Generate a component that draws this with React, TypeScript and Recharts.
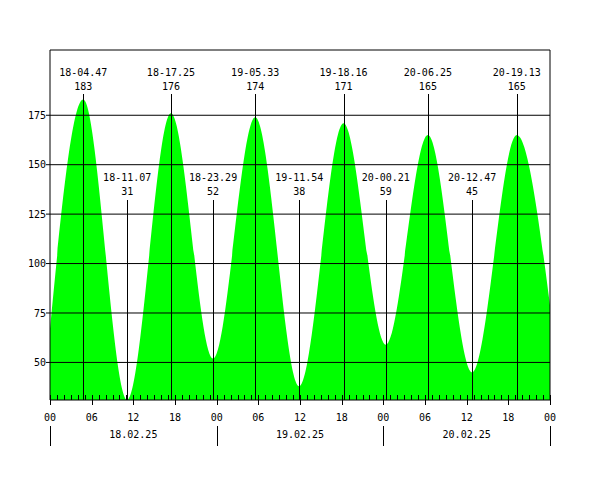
import React from 'react';
import { ComposedChart, Area, Scatter, XAxis, YAxis, ReferenceLine } from 'recharts';

// tide extremes, label is "day-hh.mm"
const EXTREME_LABELS = [
  '18-04.47', '18-11.07', '18-17.25', '18-23.29', '19-05.33', '19-11.54',
  '19-18.16', '20-00.21', '20-06.25', '20-12.47', '20-19.13',
];
const EXTREME_LEVELS = [183, 31, 176, 52, 174, 38, 171, 59, 165, 45, 165];

// level read at the left and right edge of the plot
const START_LEVEL = 67;
const END_LEVEL = 79;

const DATES = ['18.02.25', '19.02.25', '20.02.25'];
const FIRST_DAY = 18;
const Y_TICKS = [50, 75, 100, 125, 150, 175];
const Y_DOMAIN: [number, number] = [31, 208];
const HOUR_TICKS = Array.from({ length: 73 }, (_, i) => i);

const FONT = '"DejaVu Sans Mono", monospace';
const GREEN = '#00ff00';

const toHour = (label: string) => {
  const [day, time] = label.split('-');
  const [hh, mm] = time.split('.');
  return (Number(day) - FIRST_DAY) * 24 + Number(hh) + Number(mm) / 60;
};

const extremes = EXTREME_LABELS.map((label, i) => ({
  hour: toHour(label),
  level: EXTREME_LEVELS[i],
  label,
  high: i % 2 === 0,
}));

const series = [
  { hour: 0, level: START_LEVEL },
  ...extremes.map((e) => ({ hour: e.hour, level: e.level })),
  { hour: 72, level: END_LEVEL },
];

const PLOT_BOTTOM = 400;

const HourTick = (props: any) => {
  const { x, y, payload } = props;
  const h = payload.value as number;
  const px = Math.round(x) + 0.5;
  return (
    <g shapeRendering="crispEdges">
      <line x1={px} x2={px} y1={y} y2={y - 5} stroke="#000" />
      {h % 6 === 0 && <line x1={px} x2={px} y1={y} y2={y + 5} stroke="#000" />}
      {h % 6 === 0 && (
        <text x={x} y={y + 21} textAnchor="middle" fontFamily={FONT} fontSize={10} fill="#000">
          {String(h % 24).padStart(2, '0')}
        </text>
      )}
      {h % 24 === 0 && <line x1={px} x2={px} y1={y + 26} y2={y + 46} stroke="#000" />}
      {h % 24 === 12 && (
        <text x={x} y={y + 38} textAnchor="middle" fontFamily={FONT} fontSize={10} fill="#000">
          {DATES[Math.floor(h / 24)]}
        </text>
      )}
    </g>
  );
};

const ExtremeMark = (props: any) => {
  const { cx, payload } = props;
  const px = Math.round(cx) + 0.5;
  const top = payload.high ? 94 : 200;
  const base = payload.high ? 76 : 181;
  return (
    <g>
      <line x1={px} x2={px} y1={top} y2={PLOT_BOTTOM} stroke="#000" shapeRendering="crispEdges" />
      <text x={cx} y={base} textAnchor="middle" fontFamily={FONT} fontSize={10} fill="#000">
        {payload.label}
      </text>
      <text x={cx} y={base + 14} textAnchor="middle" fontFamily={FONT} fontSize={10} fill="#000">
        {payload.level}
      </text>
    </g>
  );
};

const tickStyle = { fontFamily: FONT, fontSize: 10, fill: '#000' };

export default function App() {
  return (
    <div style={{ position: 'absolute', left: 0, top: 0, background: '#fff' }}>
      <ComposedChart width={600} height={500} data={series} margin={{ top: 50, right: 0, bottom: 0, left: 0 }}>
        <XAxis
          dataKey="hour"
          type="number"
          domain={[0, 72]}
          ticks={HOUR_TICKS}
          interval={0}
          height={100}
          tickLine={false}
          tickSize={0}
          tickMargin={0}
          axisLine={{ stroke: '#000' }}
          tick={<HourTick />}
        />
        <YAxis
          yAxisId="left"
          type="number"
          domain={Y_DOMAIN}
          ticks={Y_TICKS}
          width={50}
          tickSize={4}
          tickMargin={0}
          tickLine={{ stroke: '#000' }}
          axisLine={{ stroke: '#000' }}
          tick={tickStyle}
        />
        <YAxis
          yAxisId="right"
          orientation="right"
          type="number"
          domain={Y_DOMAIN}
          ticks={Y_TICKS}
          width={50}
          tickSize={4}
          tickMargin={0}
          tickLine={{ stroke: '#000' }}
          axisLine={{ stroke: '#000' }}
          tick={tickStyle}
        />
        <Area
          yAxisId="left"
          dataKey="level"
          type="monotone"
          fill={GREEN}
          fillOpacity={1}
          stroke="none"
          dot={false}
          activeDot={false}
          isAnimationActive={false}
        />
        {Y_TICKS.map((v) => (
          <ReferenceLine key={v} yAxisId="left" y={v} stroke="#000" strokeWidth={1} />
        ))}
        <ReferenceLine yAxisId="left" y={Y_DOMAIN[1]} stroke="#000" strokeWidth={1} />
        <Scatter
          yAxisId="left"
          data={extremes}
          dataKey="level"
          shape={<ExtremeMark />}
          isAnimationActive={false}
        />
      </ComposedChart>
    </div>
  );
}
